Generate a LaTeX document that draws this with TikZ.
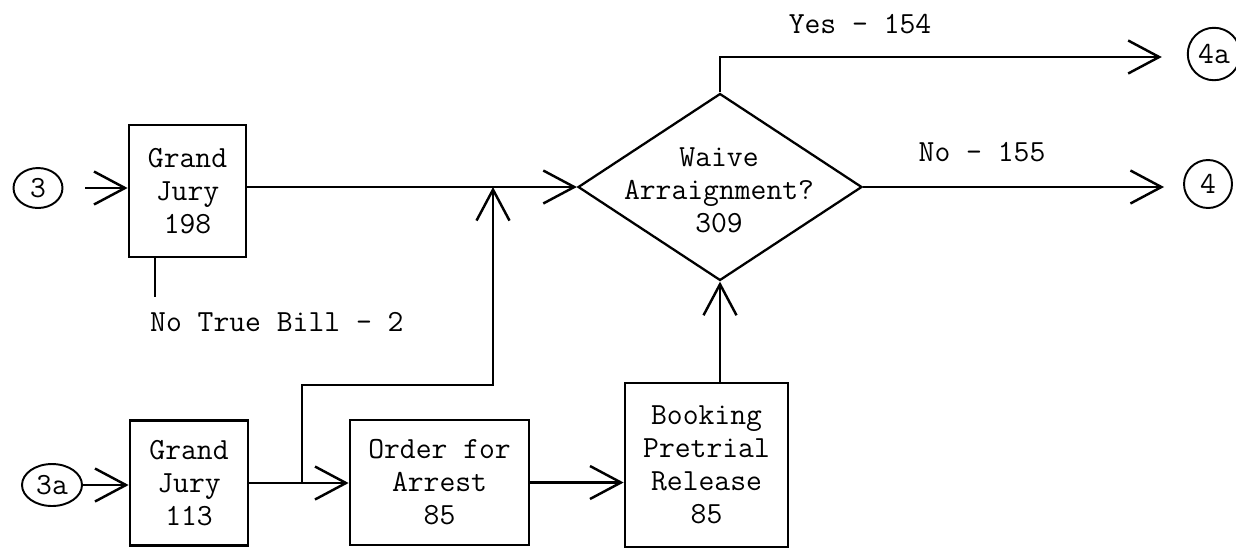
\documentclass[tikz,border=0pt]{standalone}
\usepackage{tikz}
\usetikzlibrary{shapes.geometric, arrows.meta, positioning, calc}

\begin{document}
\begin{tikzpicture}[
    x=0.02cm, y=-0.02cm,
    txt/.style={font=\fontsize{17.5}{18.8}\selectfont\ttfamily},
    box/.style={rectangle, draw, line width=1.6pt, align=center, inner sep=0pt, txt},
    decision/.style={diamond, draw, line width=1.3pt, inner sep=0pt,
                     minimum width=5.68cm, minimum height=3.74cm},
    conn/.style={ellipse, draw, line width=1.1pt, inner sep=0pt, txt},
    arr/.style={-{Straight Barb[length=0.62cm, width=0.66cm]}, line width=1.4pt},
    line/.style={line width=1.4pt}
]
\useasboundingbox (0,0) rectangle (1236,549);

% entry points
\node[conn, minimum width=0.98cm, minimum height=0.8cm] (c3) at (38,188) {3};
\node[conn, minimum width=1.2cm, minimum height=0.84cm] (c3a) at (52,485) {3a};

% boxes
\node[box, minimum width=2.34cm, minimum height=2.64cm] (gj1) at (187.5,191) {Grand\\Jury\\198};
\node[box, minimum width=2.36cm, minimum height=2.5cm] (gj2) at (189,483) {Grand\\Jury\\113};
\node[box, minimum width=3.58cm, minimum height=2.5cm] (order) at (439.5,482.5) {Order for\\Arrest\\85};
\node[box, minimum width=3.26cm, minimum height=3.28cm] (booking) at (706.5,465) {Booking\\Pretrial\\Release\\85};

% decision
\node[decision] (waive) at (720,187) {};
\node[txt, align=center] (waivetxt) at (719,190) {Waive\\Arraignment?\\309};

% exits
\node[conn, minimum size=1.05cm] (c4a) at (1214,54) {4a};
\node[conn, minimum size=0.96cm] (c4) at (1208,184) {4};

\coordinate (ntb) at (155,297);
\coordinate (split) at (302,483);
\coordinate (bend) at (493,385);
\coordinate (merge) at (bend |- waive.west);

\draw[arr, shorten <=0.44cm] (c3.east) -- (c3.east -| gj1.west);
\draw[arr] (c3a.east) -- (c3a.east -| gj2.west);
\draw[arr] (waive.west -| gj1.east) -- (waive.west);
\draw[line] (gj1.south -| ntb) -- (ntb);
\node[txt, anchor=west] (ntbtxt) at (144,322) {No True Bill - 2};

\draw[arr] (gj2.east) -- (gj2.east -| order.west);
\draw[arr] (split) -- (split |- bend) -- (bend) -- (merge);
\draw[arr] (order.east) -- (order.east -| booking.west);
\draw[arr] (waive.south |- booking.north) -- (waive.south);

\draw[arr, shorten >=0.5cm] (waive.north) -- (waive.north |- 0,57) -- (c4a.west |- 0,57);
\node[txt] (yes) at (860,24) {Yes - 154};
\draw[arr, shorten >=0.38cm] (waive.east) -- (waive.east -| c4.west);
\node[txt] (no) at (982,152) {No - 155};
\end{tikzpicture}
\end{document}
